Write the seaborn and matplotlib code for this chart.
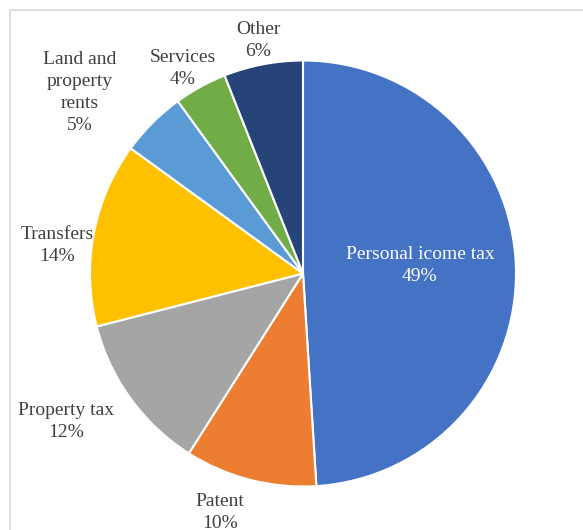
import matplotlib
matplotlib.use("Agg")
import matplotlib.pyplot as plt
from matplotlib.patches import Rectangle
import numpy as np
import seaborn as sns

# Budget revenue structure, share of total (%)
categories = ["Personal icome tax", "Patent", "Property tax", "Transfers",
              "Land and\nproperty\nrents", "Services", "Other"]
shares = [49, 10, 12, 14, 5, 4, 6]

# Excel "Office" theme palette
colors = ["#4472C4", "#ED7D31", "#A5A5A5", "#FFC000", "#5B9BD5", "#70AD47", "#264478"]

# label placement: radial distance (in radii) and angular nudge (degrees)
label_dist = [0.55, 1.19, 1.31, 1.16, 1.35, 1.117, 1.115]
label_nudge = [2.0, -4.8, -4.0, 4.4, 5.9, 1.5, 0.0]

sns.set_theme(style="white")
plt.rcParams["font.family"] = ["Liberation Serif", "DejaVu Serif"]

W, H = 583, 530
fig = plt.figure(figsize=(W / 100, H / 100), dpi=100)
fig.patch.set_facecolor("white")

# light chart-area frame
fig.patches.append(Rectangle((10 / W, -0.1), 2.0, (H - 9.5) / H + 0.1,
                             transform=fig.transFigure, fill=False,
                             edgecolor="#D9D9D9", linewidth=1.2))

cx, cy, r = 303, 273.5, 213
ax = fig.add_axes([(cx - r) / W, (H - cy - r) / H, 2 * r / W, 2 * r / H])
pal = sns.color_palette(colors)
wedges, _ = ax.pie(shares, colors=pal, startangle=90, counterclock=False,
                   wedgeprops=dict(edgecolor="white", linewidth=1.5))
ax.set_xlim(-1, 1)
ax.set_ylim(-1, 1)
ax.axis("off")

for i, (w, name, val) in enumerate(zip(wedges, categories, shares)):
    mid = np.deg2rad((w.theta1 + w.theta2) / 2 + label_nudge[i])
    x = label_dist[i] * np.cos(mid)
    y = label_dist[i] * np.sin(mid)
    col = "white" if i == 0 else "#404040"
    ax.text(x, y, f"{name}\n{val}%", ha="center", va="center",
            fontsize=14, color=col, linespacing=1.38, clip_on=False)

fig.savefig("out.png", dpi=100, facecolor="white")
